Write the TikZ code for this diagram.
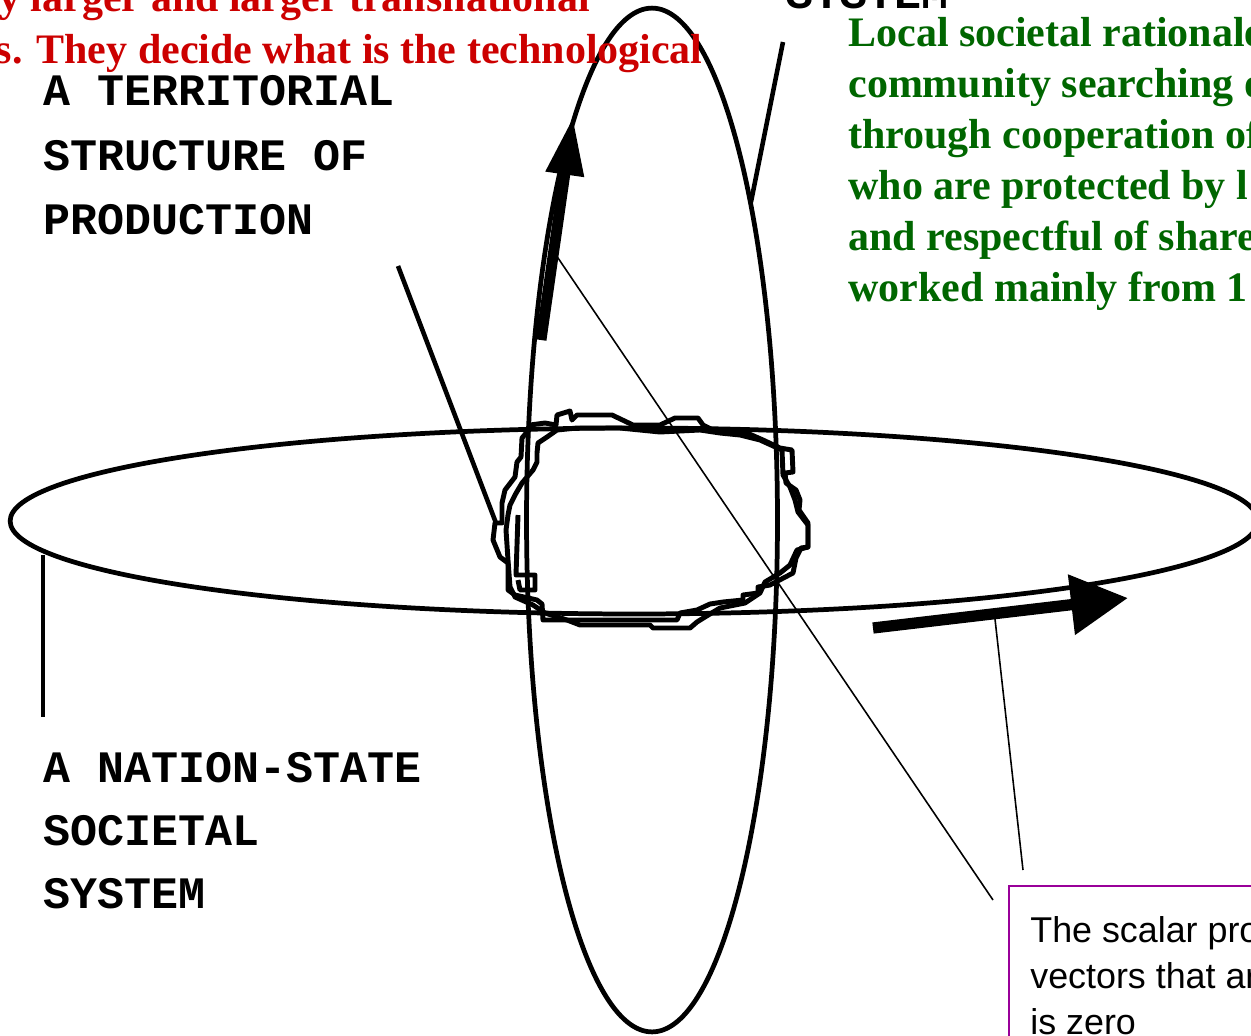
\documentclass[tikz,border=0pt]{standalone}
\usepackage{fontspec}
\setmainfont{Liberation Serif}
\newfontfamily\monofont{Liberation Mono}
\newfontfamily\sansfont{Liberation Sans}
\usetikzlibrary{arrows.meta,shapes.geometric}
\definecolor{redtext}{RGB}{204,0,0}
\definecolor{greentext}{RGB}{0,102,0}
\definecolor{boxpurple}{RGB}{153,0,153}
\begin{document}
\begin{tikzpicture}[x=0.02cm,y=-0.02cm,
  redline/.style={font=\fontsize{23.9pt}{29pt}\selectfont\bfseries, text=redtext, inner sep=0pt, anchor=base east},
  greenline/.style={font=\fontsize{23.9pt}{29pt}\selectfont\bfseries, text=greentext, inner sep=0pt, anchor=base west},
  monoline/.style={font=\monofont\fontsize{25.6pt}{36pt}\selectfont\bfseries, inner sep=0pt, anchor=base west},
  sansline/.style={font=\sansfont\fontsize{20.4pt}{26pt}\selectfont, inner sep=0pt, anchor=base west},
  orbit/.style={draw, ellipse, line width=2.7pt, inner sep=0pt},
  connline/.style={line width=2.6pt},
  thinconn/.style={line width=0.9pt},
  loopline/.style={line width=2.8pt, line join=round},
]
\useasboundingbox (0,0) rectangle (1251,1035);
\clip (0,0) rectangle (1251,1035);

% orbits
\node[orbit, minimum width=24.96cm, minimum height=3.72cm] (horiz) at (634,521) {};
\node[orbit, minimum width=5.02cm, minimum height=20.48cm] (vert) at (652,520) {};

% irregular loops
\draw[loopline] (556,425) -- (557,415) -- (570,411) -- (572,420) -- (577,415) -- (612,415) -- (633,425) -- (660,425) -- (675,418) -- (698,418) -- (703,425) -- (713,430) -- (747,433) -- (763,440) -- (780,448) -- (792,450) -- (793,472) -- (785,473) -- (786,483) -- (796,490) -- (800,500) -- (799,510) -- (808,523) -- (808,547) -- (801,548) -- (796,558) -- (793,573) -- (770,585) -- (758,587) -- (758,593) -- (743,595) -- (743,600) -- (723,602) -- (710,604) -- (697,610) -- (680,613) -- (677,620) -- (543,620) -- (542,604) -- (537,600) -- (515,595) -- (508,590) -- (508,563) -- (500,557) -- (493,540) -- (495,523) -- (502,523) -- (502,503) -- (505,490) -- (515,477) -- (517,462) -- (521,457) -- (522,438) -- (527,432) -- (530,425) -- (545,423) -- cycle;
\draw[loopline] (537,453) -- (538,443) -- (547,437) -- (557,430) -- (577,428) -- (620,428) -- (660,432) -- (700,430) -- (720,433) -- (740,435) -- (760,440) -- (782,450) -- (783,475) -- (790,487) -- (795,500) -- (798,512) -- (808,525) -- (808,547) -- (797,550) -- (790,565) -- (780,573) -- (765,582) -- (760,593) -- (745,603) -- (720,608) -- (705,617) -- (697,622) -- (690,628) -- (653,628) -- (650,625) -- (580,625) -- (567,620) -- (545,613) -- (533,605) -- (515,597) -- (510,587) -- (508,560) -- (506,530) -- (508,515) -- (510,505) -- (515,495) -- (522,483) -- (533,470) -- (537,462) -- cycle;
\draw[loopline] (518,515) -- (516,575) -- (535,575) -- (535,590) -- (520,590) -- (518,580);

% vectors
\coordinate (vtail) at (541,340);
\coordinate (vtip) at (573,117);
\coordinate (htail) at (873,628);
\coordinate (htip) at (1128,598);
\draw[line width=6.2pt, -{Triangle[length=1.16cm,width=0.72cm]}] (vtail) -- (vtip);
\draw[line width=6.4pt, -{Triangle[length=1.14cm,width=1.16cm]}] (htail) -- (htip);

% red text (cut off)
\node[redline] (red1) at (590,11) {y larger and larger transnational};
\node[redline] (red2) at (703,63) {s. They decide what is the technological};

% green text (cut off)
\node[greenline] (g1) at (848,46) {Local societal rationale};
\node[greenline] (g2) at (848,97) {community searching o};
\node[greenline] (g3) at (848,148) {through cooperation of};
\node[greenline] (g4) at (848,199) {who are protected by l};
\node[greenline] (g5) at (848,250) {and respectful of shared};
\node[greenline] (g6) at (848,301) {worked mainly from 1};

% mono labels
\node[monoline] (sys) at (786,8) {SYSTEM};
\node[monoline] (t1) at (43,105) {A TERRITORIAL};
\node[monoline] (t2) at (43,170) {STRUCTURE OF};
\node[monoline] (t3) at (43,234) {PRODUCTION};
\node[monoline] (n1) at (43,782) {A NATION-STATE};
\node[monoline] (n2) at (43,845) {SOCIETAL};
\node[monoline] (n3) at (43,908) {SYSTEM};

% box
\draw[boxpurple, line width=1.3pt] (1009,886) rectangle (1300,1100);
\node[sansline] (s1) at (1030,942) {The scalar product of two};
\node[sansline] (s2) at (1030,988) {vectors that are orthogonal};
\node[sansline] (s3) at (1030,1034) {is zero};

% connectors
\coordinate (sysend) at (783,42);
\coordinate (vertpt) at (751,202);
\draw[connline] (sysend) -- (vertpt);
\coordinate (terrend) at (398,266);
\coordinate (looppt) at (496,523);
\draw[connline] (terrend) -- (looppt);
\coordinate (horizpt) at (43,555);
\coordinate (nationend) at (43,717);
\draw[connline] (horizpt) -- (nationend);
\coordinate (varrowpt) at (556,255);
\coordinate (boxend1) at (993,900);
\draw[thinconn] (varrowpt) -- (boxend1);
\coordinate (harrowpt) at (995,619);
\coordinate (boxend2) at (1023,870);
\draw[thinconn] (harrowpt) -- (boxend2);
\end{tikzpicture}
\end{document}
